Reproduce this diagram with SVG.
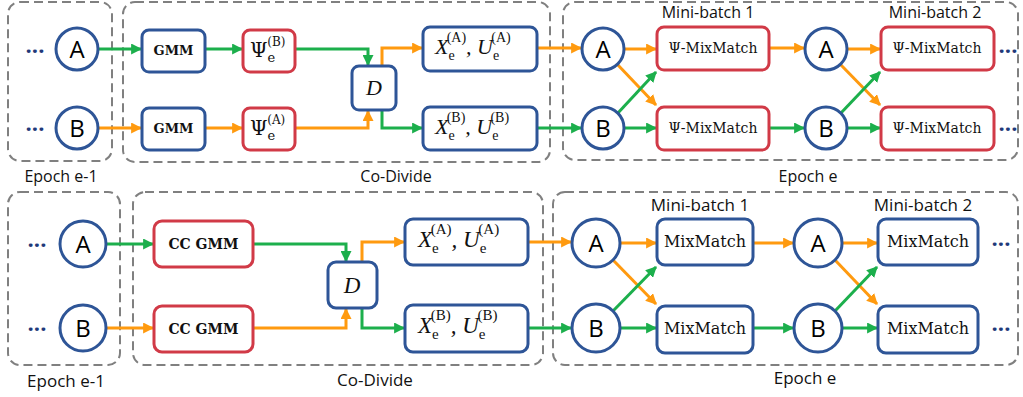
<svg xmlns="http://www.w3.org/2000/svg" width="1023" height="397" viewBox="0 0 1023 397">
<style>
.grp{fill:none;stroke:#808080;stroke-width:2;stroke-dasharray:9,5}
.cir{fill:#fff;stroke:#2E5597;stroke-width:3}
.bb{fill:#fff;stroke:#2E5597;stroke-width:3}
.rb{fill:#fff;stroke:#D13A47;stroke-width:3}
.g{fill:none;stroke:#1CAF4C;stroke-width:3;marker-end:url(#ag)}
.o{fill:none;stroke:#FF9A0F;stroke-width:3;marker-end:url(#ao)}
.lab{font-family:"Open Sans","Liberation Sans",sans-serif;fill:#111;text-anchor:middle}
.ab{font-family:"Open Sans","Liberation Sans",sans-serif;font-size:24px;fill:#000;text-anchor:middle}
.dots{font-family:"Open Sans","Liberation Sans",sans-serif;font-size:22px;font-weight:bold;fill:#1F3A7A;text-anchor:middle}
.sf{font-family:"DejaVu Serif","Liberation Serif",serif;fill:#111;text-anchor:middle}
.psi{font-family:"DejaVu Serif","Liberation Serif",serif;fill:#111;text-anchor:start}
.mx{font-family:"Liberation Serif","DejaVu Serif",serif;fill:#111;font-style:italic}
</style>
<defs>
<marker id="ag" viewBox="0 0 10 10" refX="9" refY="5" markerWidth="11" markerHeight="11" markerUnits="userSpaceOnUse" orient="auto"><path d="M0,0 L10,5 L0,10 z" fill="#1CAF4C"/></marker>
<marker id="ao" viewBox="0 0 10 10" refX="9" refY="5" markerWidth="11" markerHeight="11" markerUnits="userSpaceOnUse" orient="auto"><path d="M0,0 L10,5 L0,10 z" fill="#FF9A0F"/></marker>
</defs>

<!-- group frames -->
<g id="frames">
<rect class="grp" x="8" y="2" width="104" height="159" rx="12"/>
<rect class="grp" x="123" y="2" width="427" height="160" rx="12"/>
<rect class="grp" x="563" y="2" width="455" height="158" rx="12"/>
<rect class="grp" x="8" y="192" width="112" height="173" rx="12"/>
<rect class="grp" x="133" y="192" width="410" height="173" rx="12"/>
<rect class="grp" x="553" y="192" width="465" height="173" rx="12"/>
</g>
<g id="labels">
<text class="lab" x="61" y="182" font-size="16">Epoch e-1</text>
<text class="lab" x="396" y="182" font-size="16">Co-Divide</text>
<text class="lab" x="808" y="182" font-size="16">Epoch e</text>
<text class="lab" x="708" y="18" font-size="16">Mini-batch 1</text>
<text class="lab" x="935" y="18" font-size="16">Mini-batch 2</text>
<text class="lab" x="66" y="387" font-size="17">Epoch e-1</text>
<text class="lab" x="375" y="386" font-size="17">Co-Divide</text>
<text class="lab" x="805" y="384" font-size="17">Epoch e</text>
<text class="lab" x="700" y="211" font-size="17">Mini-batch 1</text>
<text class="lab" x="923" y="211" font-size="17">Mini-batch 2</text>
<text class="dots" x="35" y="53">...</text>
<text class="dots" x="35" y="131">...</text>
<text class="dots" x="1008" y="53">...</text>
<text class="dots" x="1008" y="131">...</text>
<text class="dots" x="37" y="247">...</text>
<text class="dots" x="37" y="331">...</text>
<text class="dots" x="1001" y="246">...</text>
<text class="dots" x="1001" y="331">...</text>
</g>

<!-- connectors -->
<g id="connectors">
<path class="g" d="M97,49 H141"/>
<path class="g" d="M205,49 H242"/>
<path class="g" d="M295,49 H368 V65"/>
<path class="o" d="M97,128 H141"/>
<path class="o" d="M205,128 H242"/>
<path class="o" d="M295,128 H368 V111"/>
<path class="o" d="M382,66 V48 H422"/>
<path class="g" d="M382,110 V128 H422"/>
<path class="o" d="M537,48 H581"/>
<path class="g" d="M537,128 H581"/>
<path class="o" d="M624,49 H656"/>
<path class="o" d="M617,64 L656,105"/>
<path class="g" d="M617,114 L656,72"/>
<path class="g" d="M624,128 H656"/>
<path class="o" d="M769,48 H804"/>
<path class="g" d="M769,128 H804"/>
<path class="o" d="M847,49 H880"/>
<path class="o" d="M840,64 L880,105"/>
<path class="g" d="M840,114 L880,72"/>
<path class="g" d="M847,128 H880"/>

<path class="g" d="M106,244 H153"/>
<path class="o" d="M106,328 H153"/>
<path class="g" d="M253,244 H346 V261"/>
<path class="o" d="M253,328 H346 V309"/>
<path class="o" d="M362,262 V242 H404"/>
<path class="g" d="M362,308 V328 H404"/>
<path class="o" d="M528,242 H571"/>
<path class="g" d="M528,328 H571"/>
<path class="o" d="M620,243 H656"/>
<path class="o" d="M613,260 L656,304"/>
<path class="g" d="M613,311 L656,267"/>
<path class="g" d="M620,328 H656"/>
<path class="o" d="M753,243 H793"/>
<path class="g" d="M753,328 H793"/>
<path class="o" d="M842,243 H877"/>
<path class="o" d="M835,260 L877,304"/>
<path class="g" d="M835,311 L877,267"/>
<path class="g" d="M842,328 H877"/>
</g>

<!-- top row nodes -->
<g id="tA0"><circle class="cir" cx="77" cy="49" r="21"/><text class="ab" x="77" y="58">A</text></g>
<g id="tB0"><circle class="cir" cx="77" cy="128" r="21"/><text class="ab" x="77" y="137">B</text></g>
<g id="tGMMa"><rect class="bb" x="142" y="30" width="63" height="42" rx="7"/><text class="sf" x="173.5" y="55" font-size="13" font-weight="bold">GMM</text></g>
<g id="tGMMb"><rect class="bb" x="142" y="108" width="63" height="42" rx="7"/><text class="sf" x="173.5" y="133" font-size="13" font-weight="bold">GMM</text></g>
<g id="tPsiB"><rect class="rb" x="243" y="30" width="52" height="42" rx="7"/><text class="psi" x="250" y="57" font-size="20">Ψ<tspan font-size="13" dy="5">e</tspan><tspan font-size="12" dx="-8" dy="-16">(B)</tspan></text></g>
<g id="tPsiA"><rect class="rb" x="243" y="108" width="52" height="42" rx="7"/><text class="psi" x="250" y="135" font-size="20">Ψ<tspan font-size="13" dy="5">e</tspan><tspan font-size="12" dx="-8" dy="-16">(A)</tspan></text></g>
<g id="tD"><rect class="bb" x="352" y="66" width="44" height="44" rx="7"/><text class="mx" x="374" y="95" font-size="22" text-anchor="middle">D</text></g>
<g id="tXA"><rect class="bb" x="423" y="27" width="114" height="44" rx="7"/><text class="mx" x="435" y="54" font-size="22">X<tspan font-style="normal" font-size="14" dy="6">e</tspan><tspan font-style="normal" font-size="14" dx="-8" dy="-18">(A)</tspan><tspan dy="12">, U</tspan><tspan font-style="normal" font-size="14" dy="6">e</tspan><tspan font-style="normal" font-size="14" dx="-8" dy="-18">(A)</tspan></text></g>
<g id="tXB"><rect class="bb" x="423" y="107" width="114" height="43" rx="7"/><text class="mx" x="435" y="134" font-size="22">X<tspan font-style="normal" font-size="14" dy="6">e</tspan><tspan font-style="normal" font-size="14" dx="-8" dy="-18">(B)</tspan><tspan dy="12">, U</tspan><tspan font-style="normal" font-size="14" dy="6">e</tspan><tspan font-style="normal" font-size="14" dx="-8" dy="-18">(B)</tspan></text></g>
<g id="tA1"><circle class="cir" cx="603" cy="49" r="21"/><text class="ab" x="603" y="58">A</text></g>
<g id="tB1"><circle class="cir" cx="603" cy="128" r="21"/><text class="ab" x="603" y="137">B</text></g>
<g id="tM1a"><rect class="rb" x="657" y="27" width="112" height="43" rx="7"/><text class="sf" x="713" y="53" font-size="14">Ψ-MixMatch</text></g>
<g id="tM1b"><rect class="rb" x="657" y="107" width="112" height="43" rx="7"/><text class="sf" x="713" y="133" font-size="14">Ψ-MixMatch</text></g>
<g id="tA2"><circle class="cir" cx="826" cy="49" r="21"/><text class="ab" x="826" y="58">A</text></g>
<g id="tB2"><circle class="cir" cx="826" cy="128" r="21"/><text class="ab" x="826" y="137">B</text></g>
<g id="tM2a"><rect class="rb" x="881" y="27" width="113" height="43" rx="7"/><text class="sf" x="937" y="53" font-size="14">Ψ-MixMatch</text></g>
<g id="tM2b"><rect class="rb" x="881" y="107" width="113" height="43" rx="7"/><text class="sf" x="937" y="133" font-size="14">Ψ-MixMatch</text></g>

<!-- bottom row nodes -->
<g id="bA0"><circle class="cir" cx="83" cy="244" r="23"/><text class="ab" x="83" y="253">A</text></g>
<g id="bB0"><circle class="cir" cx="83" cy="328" r="23"/><text class="ab" x="83" y="337">B</text></g>
<g id="bCCa"><rect class="rb" x="154" y="221" width="99" height="46" rx="8"/><text class="sf" x="203.5" y="249" font-size="14" font-weight="bold">CC GMM</text></g>
<g id="bCCb"><rect class="rb" x="154" y="306" width="99" height="46" rx="8"/><text class="sf" x="203.5" y="334" font-size="14" font-weight="bold">CC GMM</text></g>
<g id="bD"><rect class="bb" x="328" y="262" width="49" height="46" rx="8"/><text class="mx" x="352" y="293" font-size="23" text-anchor="middle">D</text></g>
<g id="bXA"><rect class="bb" x="405" y="219" width="123" height="46" rx="8"/><text class="mx" x="418" y="247" font-size="23">X<tspan font-style="normal" font-size="15" dy="6">e</tspan><tspan font-style="normal" font-size="15" dx="-8" dy="-19">(A)</tspan><tspan dy="13">, U</tspan><tspan font-style="normal" font-size="15" dy="6">e</tspan><tspan font-style="normal" font-size="15" dx="-8" dy="-19">(A)</tspan></text></g>
<g id="bXB"><rect class="bb" x="405" y="305" width="123" height="47" rx="8"/><text class="mx" x="418" y="333" font-size="23">X<tspan font-style="normal" font-size="15" dy="6">e</tspan><tspan font-style="normal" font-size="15" dx="-8" dy="-19">(B)</tspan><tspan dy="13">, U</tspan><tspan font-style="normal" font-size="15" dy="6">e</tspan><tspan font-style="normal" font-size="15" dx="-8" dy="-19">(B)</tspan></text></g>
<g id="bA1"><circle class="cir" cx="596" cy="243" r="24"/><text class="ab" x="596" y="252">A</text></g>
<g id="bB1"><circle class="cir" cx="596" cy="328" r="24"/><text class="ab" x="596" y="337">B</text></g>
<g id="bM1a"><rect class="bb" x="657" y="219" width="96" height="46" rx="8"/><text class="sf" x="705" y="247" font-size="16">MixMatch</text></g>
<g id="bM1b"><rect class="bb" x="657" y="306" width="96" height="47" rx="8"/><text class="sf" x="705" y="334" font-size="16">MixMatch</text></g>
<g id="bA2"><circle class="cir" cx="818" cy="243" r="24"/><text class="ab" x="818" y="252">A</text></g>
<g id="bB2"><circle class="cir" cx="818" cy="328" r="24"/><text class="ab" x="818" y="337">B</text></g>
<g id="bM2a"><rect class="bb" x="878" y="219" width="100" height="46" rx="8"/><text class="sf" x="928" y="247" font-size="16">MixMatch</text></g>
<g id="bM2b"><rect class="bb" x="878" y="306" width="100" height="47" rx="8"/><text class="sf" x="928" y="334" font-size="16">MixMatch</text></g>
</svg>
